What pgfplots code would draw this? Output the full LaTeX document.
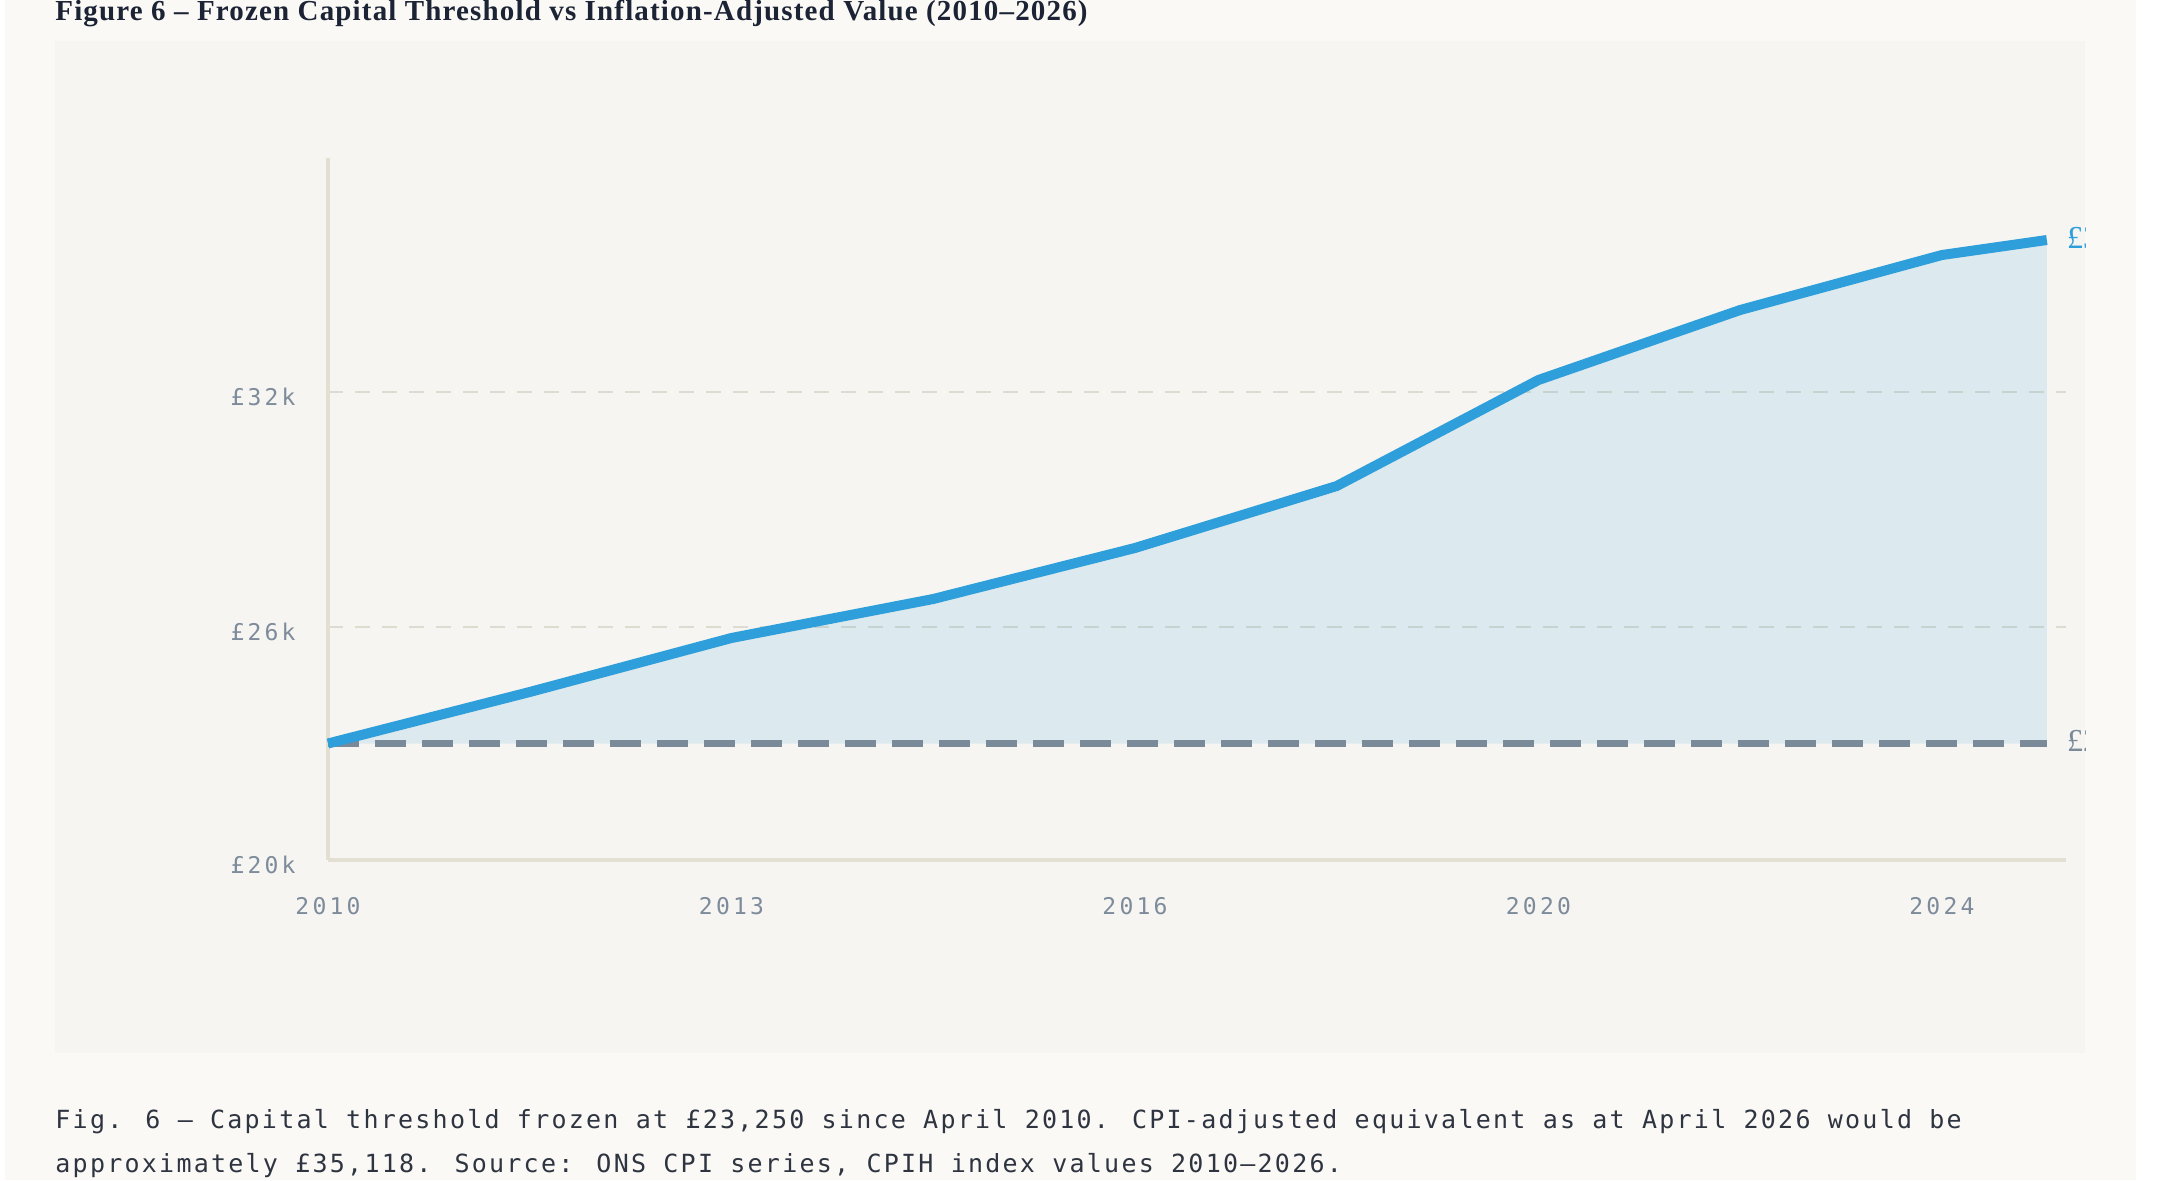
\documentclass[border=0pt]{standalone}
\usepackage{fontspec}
\usepackage{pgfplots}
\usepackage{pgfplotstable}
\pgfplotsset{compat=1.18}

\setmainfont{Liberation Serif}
\newfontfamily\titlefont[LetterSpace=4]{Liberation Serif}
\newfontfamily\monofont[LetterSpace=14]{DejaVu Sans Mono}
\newfontfamily\capfont[LetterSpace=9]{DejaVu Sans Mono}

\definecolor{pagebg}{HTML}{FAF9F6}
\definecolor{panelbg}{HTML}{F6F5F1}
\definecolor{adjline}{HTML}{2E9FDA}
\definecolor{frozen}{HTML}{7B8A99}
\definecolor{axisrule}{HTML}{E3DFD3}
\definecolor{gridcol}{HTML}{DEDBD0}
\definecolor{ticktext}{HTML}{7D8B9B}
\definecolor{titletext}{HTML}{1B2334}
\definecolor{captext}{HTML}{2E3440}

% CPI-adjusted value of the capital threshold (index position, pounds)
\pgfplotstableread{
x     y
0     23250
1     24464
2     25737
3     26656
4     27858
5     29319
6     31818
7     33468
8     34764
8.52  35118
}\adjusted

% Shaded gap between the adjusted value and the frozen threshold
\pgfplotstableread{
x     y
0     23250
1     24464
2     25737
3     26656
4     27858
5     29319
6     31818
7     33468
8     34764
8.52  35118
8.52  23250
}\gap

% Frozen threshold
\pgfplotstableread{
x     y
0     23250
8.52  23250
}\frozenline

\begin{document}
\begin{tikzpicture}[x=0.5pt,y=0.5pt]
\fill[white] (0,0) rectangle (2160,1180);
\fill[pagebg] (5,0) rectangle (2136,1180);
\fill[panelbg] (55,127) rectangle (2085,1139);

\node[anchor=base west, inner sep=0, text=titletext,
      font=\titlefont\fontsize{14.5}{14.5}\selectfont\bfseries]
  at (55,1159) {Figure 6 – Frozen Capital Threshold vs Inflation-Adjusted Value (2010–2026)};

\begin{scope}
\clip (55,127) rectangle (2085,1139);
\begin{axis}[
  at={(164pt,160pt)}, anchor=south west,
  scale only axis, width=869pt, height=351pt,
  xmin=0, xmax=8.615, ymin=20504, ymax=37051,
  scaled y ticks=false,
  axis x line*=bottom, axis y line*=left,
  axis line style={draw=axisrule, line width=2pt, -},
  major tick length=0pt,
  xtick={0,2,4,6,8}, xticklabels={2010,2013,2016,2020,2024},
  ytick={20504,25996,31547}, yticklabels={£20k,£26k,£32k},
  ticklabel style={font=\monofont\fontsize{11.5}{11.5}\selectfont, text=ticktext, inner sep=0pt},
  xticklabel style={anchor=center, yshift=-23pt},
  yticklabel style={anchor=east, xshift=-16pt, yshift=-2.5pt},
  ymajorgrids,
  grid style={draw=gridcol, line width=1pt, dash pattern=on 7.5pt off 6pt},
  clip=false,
]
\addplot[fill=adjline, fill opacity=0.13, draw=none] table {\gap};
\addplot[draw=frozen, line width=3.5pt, dash pattern=on 15.5pt off 8pt] table {\frozenline};
\addplot[draw=adjline, line width=5pt, line join=round] table {\adjusted};
\node[anchor=west, inner sep=0, xshift=10pt, text=adjline, font=\fontsize{16}{16}\selectfont]
  at (axis cs:8.52,35118) {£35,118};
\node[anchor=west, inner sep=0, xshift=10pt, text=frozen, font=\fontsize{16}{16}\selectfont]
  at (axis cs:8.52,23250) {£23,250};
\end{axis}
\end{scope}

\node[anchor=base west, inner sep=0, text=captext, font=\capfont\fontsize{12.5}{12.5}\selectfont]
  at (55,52) {Fig. 6 — Capital threshold frozen at £23,250 since April 2010. CPI-adjusted equivalent as at April 2026 would be};
\node[anchor=base west, inner sep=0, text=captext, font=\capfont\fontsize{12.5}{12.5}\selectfont]
  at (55,8) {approximately £35,118. Source: ONS CPI series, CPIH index values 2010–2026.};

\pgfresetboundingbox
\path[use as bounding box] (0,0) rectangle (2160,1180);
\end{tikzpicture}
\end{document}
